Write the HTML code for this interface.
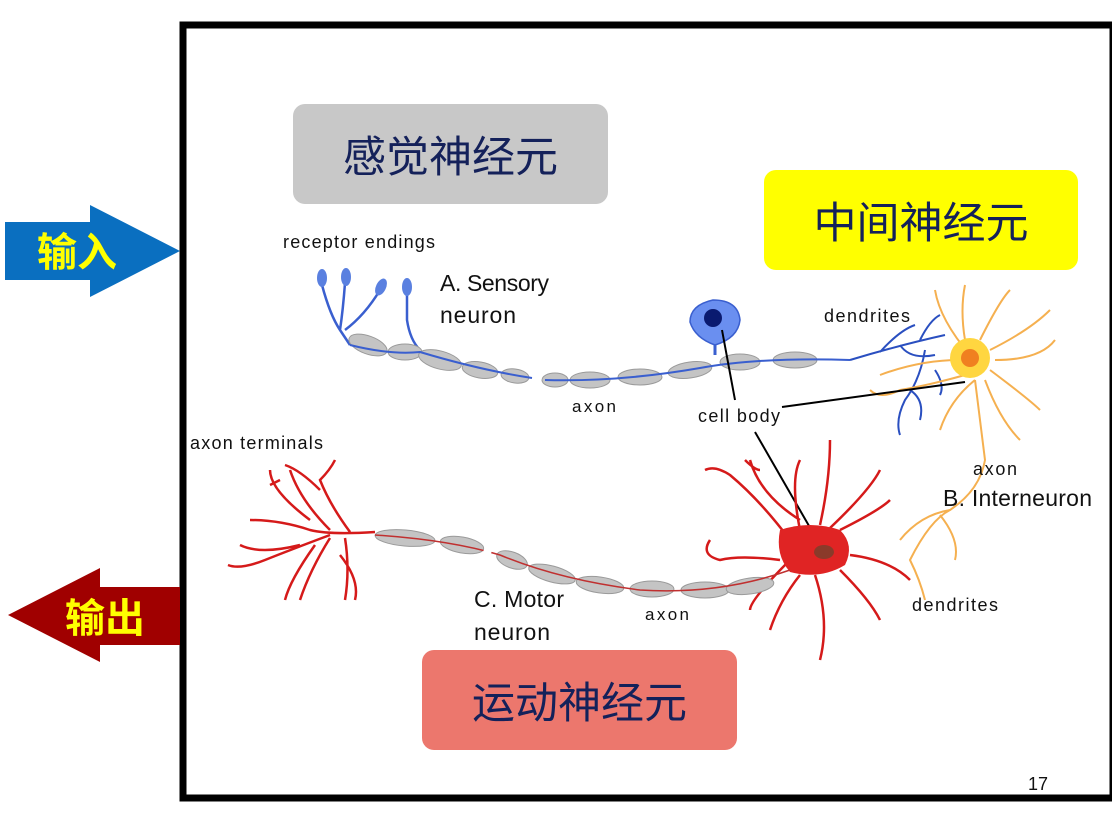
<!DOCTYPE html>
<html><head><meta charset="utf-8"><style>
html,body{margin:0;padding:0;background:#fff;}
body{width:1112px;height:834px;overflow:hidden;position:relative;font-family:"Liberation Sans","Noto Sans CJK SC",sans-serif;}
.box{position:absolute;border-radius:12px;display:flex;align-items:center;justify-content:center;font-size:43px;color:#14215a;font-family:"Liberation Sans","Noto Sans CJK SC",sans-serif;}
</style></head><body>
<svg width="1112" height="834" style="position:absolute;left:0;top:0" font-family="Liberation Sans, Noto Sans CJK SC, sans-serif">
<rect x="183" y="25" width="930" height="773" fill="#fff" stroke="#000" stroke-width="7"/>
<polygon points="5,222 90,222 90,205 180,251 90,297 90,280 5,280" fill="#0a6fc0"/>
<text x="77" y="266" font-size="40" font-weight="bold" fill="#ffff00" text-anchor="middle">输入</text>
<polygon points="180,587 100,587 100,568 8,615 100,662 100,645 180,645" fill="#a00000"/>
<text x="105" y="632" font-size="40" font-weight="bold" fill="#ffff00" text-anchor="middle">输出</text>

<g stroke="#3a5fcf" stroke-width="2.5" fill="none">
<path d="M322,285 Q330,315 340,330 M345,283 Q343,310 340,330 M380,290 Q365,315 345,330 M340,330 L350,345"/>
<path d="M407,290 L407,320 Q410,340 420,350"/>
</g>
<g fill="#5a80e0">
<ellipse cx="322" cy="278" rx="5" ry="9"/><ellipse cx="346" cy="277" rx="5" ry="9"/>
<ellipse cx="381" cy="287" rx="5" ry="9" transform="rotate(25 381 287)"/><ellipse cx="407" cy="287" rx="5" ry="9"/>
</g>
<g fill="#c4c4c4" stroke="#9a9a9a" stroke-width="1">
<ellipse cx="368" cy="345" rx="20" ry="9" transform="rotate(20 368 345)"/>
<ellipse cx="405" cy="352" rx="17" ry="8"/>
<ellipse cx="440" cy="360" rx="22" ry="9" transform="rotate(15 440 360)"/>
<ellipse cx="480" cy="370" rx="18" ry="8" transform="rotate(10 480 370)"/>
<ellipse cx="515" cy="376" rx="14" ry="7" transform="rotate(8 515 376)"/>
<ellipse cx="555" cy="380" rx="13" ry="7"/>
<ellipse cx="590" cy="380" rx="20" ry="8"/>
<ellipse cx="640" cy="377" rx="22" ry="8"/>
<ellipse cx="690" cy="370" rx="22" ry="8" transform="rotate(-8 690 370)"/>
<ellipse cx="740" cy="362" rx="20" ry="8"/>
<ellipse cx="795" cy="360" rx="22" ry="8"/>
</g>
<path d="M350,345 Q390,355 420,352 Q480,370 532,378 M545,380 Q620,382 700,368 Q760,357 850,360" stroke="#3a5fcf" stroke-width="2" fill="none"/>
<path d="M715,355 L715,340" stroke="#3a5fcf" stroke-width="3"/>
<path d="M713,300 Q690,305 690,322 Q695,338 715,345 Q738,338 740,320 Q738,300 713,300 Z" fill="#6a8ff0" stroke="#3a5fcf" stroke-width="1.5"/>
<circle cx="713" cy="318" r="9" fill="#0a1a70"/>
<g stroke="#2a4fc0" stroke-width="2" fill="none">
<path d="M850,360 Q900,345 945,335 M880,352 Q900,330 915,325 M900,345 Q910,360 935,355 M920,340 Q930,320 940,315 M925,350 Q920,380 905,400 Q895,420 900,435 M910,390 Q925,400 920,420 M935,370 Q945,385 940,395"/>
</g>
<g stroke="#f5b050" stroke-width="2" fill="none">
<path d="M970,355 Q940,320 935,290 M965,340 Q960,310 965,285 M980,340 Q1000,300 1010,290 M990,350 Q1030,330 1050,310 M995,360 Q1040,360 1055,340 M990,370 Q1030,400 1040,410 M985,380 Q1000,420 1020,440 M975,380 Q980,420 985,460 Q980,490 950,510 Q920,515 900,540 M975,380 Q950,400 940,430 M965,375 Q930,385 900,390 Q880,400 870,390 M960,360 Q920,360 880,375 M950,510 Q930,520 910,560 Q920,580 925,600 M940,515 Q960,540 955,560"/>
</g>
<circle cx="970" cy="358" r="20" fill="#ffd640"/>
<circle cx="970" cy="358" r="9" fill="#f08020"/>
<path d="M722,330 L735,400 M782,407 L965,382 M755,432 L820,545" stroke="#000" stroke-width="2"/>
<g stroke="#d51a1a" stroke-width="2.5" fill="none">
<path d="M375,532 Q330,535 310,530 Q280,520 250,520 M330,530 Q300,500 290,470 M310,520 Q270,490 270,470 M350,532 Q330,505 320,480 Q330,470 335,460 M320,490 Q300,470 285,465 M330,535 Q290,550 265,560 Q240,570 228,565 M300,545 Q260,555 240,545 M330,538 Q310,570 300,600 M315,545 Q290,580 285,600 M345,538 Q350,570 345,600 M340,555 Q360,580 355,600 M280,480 L270,485"/>
<path d="M780,560 Q740,555 720,560 Q700,555 710,540 M790,540 Q760,500 730,475 Q715,465 705,470 M800,530 Q790,480 800,460 M800,520 Q760,495 750,460 M820,525 Q830,480 830,440 M830,528 Q870,490 880,470 M840,530 Q880,510 890,500 M850,555 Q890,560 910,580 M840,570 Q870,600 880,620 M815,575 Q830,620 820,660 M800,575 Q780,600 770,630 M790,560 Q750,600 750,610 M760,470 Q755,470 745,460"/>
</g>
<path d="M780,530 Q810,520 840,530 Q855,545 845,565 Q820,580 790,572 Q775,555 780,530 Z" fill="#e02424"/>
<ellipse cx="824" cy="552" rx="10" ry="7" fill="#8a3a2a"/>
<g fill="#c4c4c4" stroke="#9a9a9a" stroke-width="1">
<ellipse cx="405" cy="538" rx="30" ry="8" transform="rotate(5 405 538)"/>
<ellipse cx="462" cy="545" rx="22" ry="8" transform="rotate(10 462 545)"/>
<ellipse cx="512" cy="560" rx="16" ry="8" transform="rotate(20 512 560)"/>
<ellipse cx="552" cy="574" rx="24" ry="8" transform="rotate(15 552 574)"/>
<ellipse cx="600" cy="585" rx="24" ry="8" transform="rotate(8 600 585)"/>
<ellipse cx="652" cy="589" rx="22" ry="8"/>
<ellipse cx="705" cy="590" rx="24" ry="8"/>
<ellipse cx="750" cy="586" rx="24" ry="8" transform="rotate(-8 750 586)"/>
</g>
<path d="M375,535 Q450,540 500,555 Q560,580 640,590 Q720,595 790,570" stroke="#c03030" stroke-width="1.5" fill="none"/>
<rect x="484" y="535" width="8" height="30" fill="#fff" transform="rotate(20 488 550)"/>
<rect x="534" y="362" width="8" height="30" fill="#fff" transform="rotate(10 538 377)"/>
<g font-family="Liberation Sans, sans-serif" fill="#111">
<text x="283" y="248" font-size="18" textLength="152">receptor endings</text>
<text x="440" y="291" font-size="23" textLength="109">A. Sensory</text>
<text x="440" y="323" font-size="23" textLength="76">neuron</text>
<text x="572" y="412" font-size="17" textLength="44">axon</text>
<text x="698" y="422" font-size="18" textLength="82">cell body</text>
<text x="824" y="322" font-size="18" textLength="86">dendrites</text>
<text x="190" y="449" font-size="18" textLength="133">axon terminals</text>
<text x="973" y="475" font-size="18" textLength="44">axon</text>
<text x="943" y="506" font-size="23" textLength="149">B. Interneuron</text>
<text x="474" y="607" font-size="23" textLength="90">C. Motor</text>
<text x="474" y="640" font-size="23" textLength="76">neuron</text>
<text x="645" y="620" font-size="17" textLength="44">axon</text>
<text x="912" y="611" font-size="18" textLength="86">dendrites</text>
<text x="1028" y="790" font-size="18">17</text>
</g>
</svg>
<div class="box" style="left:293px;top:104px;width:315px;height:100px;background:#c8c8c8;">感觉神经元</div>
<div class="box" style="left:764px;top:170px;width:314px;height:100px;background:#ffff00;">中间神经元</div>
<div class="box" style="left:422px;top:650px;width:315px;height:100px;background:#ec776d;">运动神经元</div>
</body></html>
